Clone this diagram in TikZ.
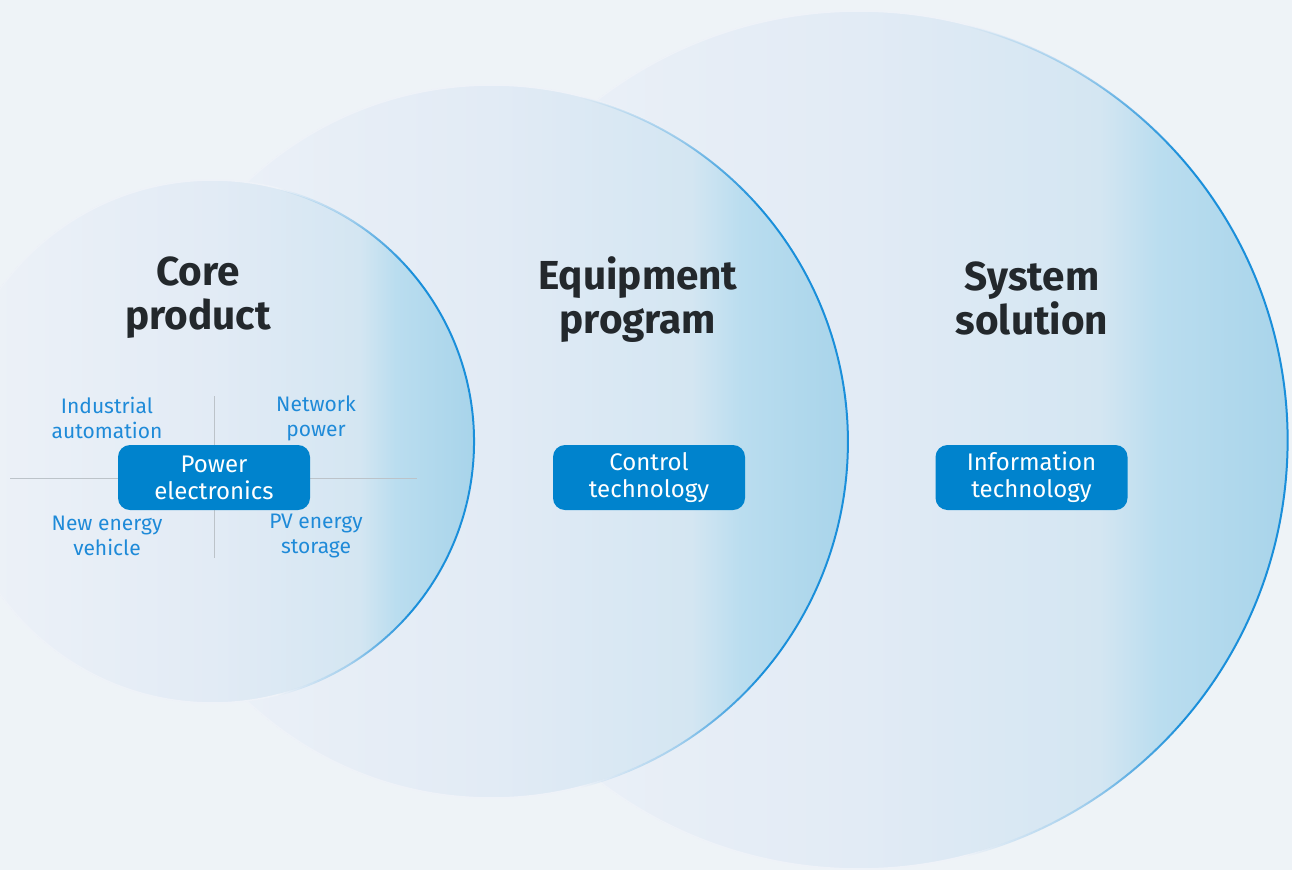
\documentclass[tikz,border=0pt]{standalone}
\usepackage{fontspec}
\setmainfont{Fira Sans}
\usetikzlibrary{fadings}
\definecolor{bgc}{HTML}{EEF3F7}
\definecolor{c0}{HTML}{EEF2F8}
\definecolor{c1}{HTML}{E2EBF5}
\definecolor{c2}{HTML}{D4E6F2}
\definecolor{c3}{HTML}{BADDEF}
\definecolor{c4}{HTML}{A8D4EA}
\definecolor{rimc}{HTML}{1A8FDA}
\definecolor{boxblue}{HTML}{0083CD}
\definecolor{labblue}{HTML}{1E8AD8}
\definecolor{titlec}{HTML}{23282C}
\definecolor{linec}{HTML}{BCC3C9}
\pgfdeclarehorizontalshading{circshade}{100bp}{color(0bp)=(c0); color(25bp)=(c0); color(50bp)=(c1); color(64bp)=(c2); color(67.5bp)=(c3); color(75bp)=(c4); color(100bp)=(c4)}
\pgfdeclarehorizontalshading{rimsh}{100bp}{color(0bp)=(black); color(37bp)=(black); color(50bp)=(black!65); color(61bp)=(white); color(75bp)=(white); color(100bp)=(white)}
\tikzfading[name=rimfade, shading=rimsh]
\begin{document}
\begin{tikzpicture}[x=1pt,y=-1pt,
  rim/.style={draw=rimc, line width=2pt, path fading=rimfade},
  soft/.style={draw=c0, line width=1.6pt},
  disc/.style={shading=circshade},
  pbox/.style={fill=boxblue, text=white, rounded corners=12pt, minimum width=192pt, minimum height=65pt, align=center, inner sep=0pt, font=\fontsize{24}{27}\selectfont},
  lab/.style={text=labblue, align=center, inner sep=0pt, font=\fontsize{21}{25}\selectfont},
  ttl/.style={text=titlec, align=center, inner sep=0pt, font=\fontsize{40.5}{44}\selectfont\bfseries},
  sep/.style={draw=linec, line width=1pt}]
\useasboundingbox (0,0) rectangle (1292,870);
\fill[bgc] (0,0) rectangle (1292,870);
% circles
\coordinate (cL) at (859,440);
\coordinate (cM) at (491.5,441.5);
\coordinate (cS) at (212.5,441.5);
\fill[disc] (cL) circle (429);
\draw[soft] (cL) circle (429);
\draw[rim] (cL) ++(-85:429) arc[start angle=-85, end angle=85, radius=429];
\fill[disc] (cM) circle (356.5);
\draw[soft] (cM) circle (356.5);
\draw[rim] (cM) ++(-85:356.5) arc[start angle=-85, end angle=85, radius=356.5];
\fill[disc] (cS) circle (261.5);
\draw[soft] (cS) circle (261.5);
\draw[rim] (cS) ++(-85:261.5) arc[start angle=-85, end angle=85, radius=261.5];
% separators
\coordinate (hl) at (10,478);
\coordinate (hr) at (417,478);
\coordinate (vt) at (214,396);
\coordinate (vb) at (214,558);
\draw[sep] (hl) -- (hr);
\draw[sep] (vt) -- (vb);
% boxes
\node[pbox] (pe) at (214,477.5) {Power\\electronics};
\node[pbox] (ct) at (649,477.5) {Control\\technology};
\node[pbox] (it) at (1031.5,477.5) {Information\\technology};
% labels
\node[lab] (ia) at (107,418) {Industrial\\automation};
\node[lab] (np) at (316,418) {Network\\power};
\node[lab] (nev) at (107,535.5) {New energy\\vehicle};
\node[lab] (pv) at (316,535.5) {PV energy\\storage};
% titles
\node[ttl] (core) at (198,298) {Core\\product};
\node[ttl] (equip) at (638,300) {Equipment\\program};
\node[ttl] (sys) at (1032,298) {System\\solution};
\end{tikzpicture}
\end{document}
